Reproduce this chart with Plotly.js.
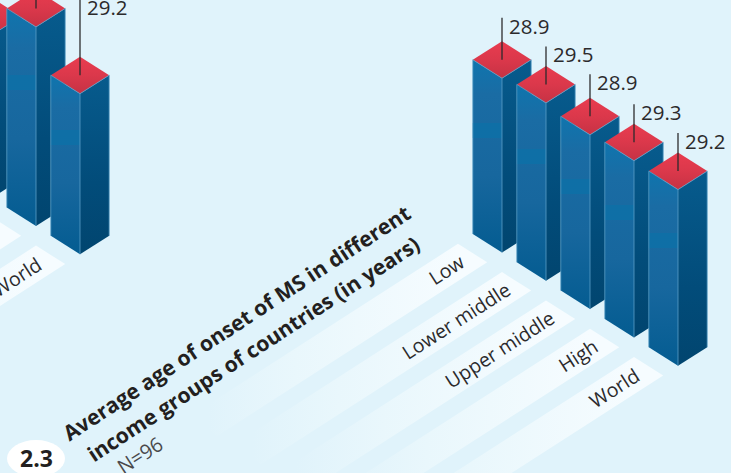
<!DOCTYPE html>
<html>
<head>
<meta charset="utf-8">
<script src="https://cdn.plot.ly/plotly-3.0.1.min.js"></script>
<style>html,body{margin:0;padding:0;background:#e0f3fb;overflow:hidden}</style>
</head>
<body>
<div id="chart" style="width:731px;height:473px"></div>
<script>
// ---- data ----
const categories = ['Low', 'Lower middle', 'Upper middle', 'High', 'World'];
const onsetAge = [28.9, 29.5, 28.9, 29.3, 29.2];
const valueLabels = ['28.9', '29.5', '28.9', '29.3', '29.2'];
const leaderLengths = [42, 38, 42, 38, 38];
const labelInsets = [31, 72, 73, 32, 40];
const stripTops = [123, 149, 179, 205, 233];

const prevCategories = ['Upper middle', 'High', 'World'];
const prevValues = [29.6, 36.2, 29.2];
const prevValueLabels = ['', '', '29.2'];
const prevSlots = [2, 3, 4];
const prevStripTops = [null, 75, 130];

const titleLines = ['Average age of onset of MS in different', 'income groups of countries (in years)'];
const noteText = 'N=96';
const badgeText = '2.3';

// ---- style & projection ----
const BG = '#e0f3fb', HW = 29.2, HH = 18.5, STEP_X = 44, STEP_Y = 28.3;
const ANGLE = -32.7, DIR = [-0.841, 0.541];
const FONT = '"Open Sans", "Noto Sans", sans-serif', INK = '#2b2a2c';

const traces = [], annotations = [];

function poly(xs, ys, fillgradient, line) {
  traces.push({
    type: 'scatter', mode: line ? 'lines' : 'none', x: xs.concat(xs[0]), y: ys.concat(ys[0]),
    fill: 'toself', fillgradient, line: line || { width: 0 }, hoverinfo: 'skip', showlegend: false
  });
}

function group(x0, y0, pxPerYear, slots, values, labels, leaders, stripArr, cats, insets) {
  // background ribbons
  slots.forEach((s, k) => {
    const tx = x0 + s * STEP_X - 44, ty = y0 + s * STEP_Y - 8.7;
    const L = 270, ex = L, ey = L * 0.643;
    poly([tx, tx + HW, tx + HW - ex, tx - ex], [ty, ty + HH, ty + HH + ey, ty + ey], {
      type: 'horizontal', start: tx - ex + 20, stop: tx + HW - 30,
      colorscale: [[0, BG], [0.35, '#e9f7fc'], [1, '#f6fcff']]
    });
    const cx = tx + HW / 2 + insets[k] * DIR[0], cy = ty + HH / 2 + insets[k] * DIR[1];
    if (cx > 0) annotations.push({
      x: cx, y: cy, xref: 'x', yref: 'y', text: cats[k], showarrow: false, textangle: ANGLE,
      font: { family: FONT, size: 19.5, color: INK }, xanchor: 'center', yanchor: 'middle'
    });
  });
  // bars
  slots.forEach((s, k) => {
    const fx = x0 + s * STEP_X, by = y0 + s * STEP_Y, ty = by - values[k] * pxPerYear;
    poly([fx - HW, fx, fx, fx - HW], [ty - HH, ty, by, by - HH], {
      type: 'vertical', start: ty - HH, stop: by,
      colorscale: [[0, '#0f75ae'], [0.18, '#1a6ca4'], [0.6, '#17679e'], [1, '#045c91']]
    });
    if (stripArr[k] !== null) {
      traces.push({
        type: 'scatter', mode: 'none', hoverinfo: 'skip', showlegend: false, fill: 'toself',
        fillcolor: 'rgba(12,113,168,0.8)',
        x: [fx - HW, fx, fx, fx - HW, fx - HW],
        y: [stripArr[k], stripArr[k], stripArr[k] + 15, stripArr[k] + 15, stripArr[k]]
      });
    }
    poly([fx, fx + HW, fx + HW, fx], [ty, ty - HH, by - HH, by], {
      type: 'vertical', start: ty - HH, stop: by,
      colorscale: [[0, '#075b8d'], [0.6, '#024c7a'], [1, '#01456f']]
    });
    poly([fx - HW, fx, fx + HW, fx], [ty - HH, ty - 2 * HH, ty - HH, ty], {
      type: 'vertical', start: ty - 2 * HH, stop: ty,
      colorscale: [[0, '#e93c4f'], [0.5, '#db384b'], [1, '#c63244']]
    });
    // light edges
    traces.push({
      type: 'scatter', mode: 'lines', hoverinfo: 'skip', showlegend: false,
      line: { color: '#5c9fc8', width: 0.8 },
      x: [fx - HW, fx - HW, fx, fx, null, fx, fx + HW, fx + HW],
      y: [by - HH, ty - HH, ty, by, null, ty, ty - HH, by - HH]
    });
    // leader
    const cy = ty - HH, top = cy - (leaders ? leaders[k] : 80);
    traces.push({
      type: 'scatter', mode: 'lines', hoverinfo: 'skip', showlegend: false,
      line: { color: 'rgba(43,42,44,0.92)', width: 1.4 }, x: [fx, fx], y: [top, cy]
    });
    if (labels[k]) annotations.push({
      x: fx + 5, y: leaders ? top + 8 : 7, xref: 'x', yref: 'y', text: labels[k], showarrow: false,
      xanchor: 'left', yanchor: 'middle', font: { family: FONT, size: 20.5, color: INK }
    });
  });
}

group(80 - 4 * STEP_X, 254.3 - 4 * STEP_Y, 5.5, prevSlots, prevValues, prevValueLabels, null, prevStripTops, prevCategories,
  [73, 32, 40]);
group(502, 252.5, 6.03, [0, 1, 2, 3, 4], onsetAge, valueLabels, leaderLengths, stripTops, categories, labelInsets);

[[236, 322], [253, 348]].forEach((c, i) => annotations.push({
  x: c[0], y: c[1], xref: 'x', yref: 'y', text: '<b>' + titleLines[i] + '</b>', showarrow: false,
  textangle: -33.2, font: { family: FONT, size: 21.2, color: '#231f20' }, xanchor: 'center', yanchor: 'middle'
}));
annotations.push({
  x: 139, y: 455, xref: 'x', yref: 'y', text: noteText, showarrow: false, textangle: ANGLE,
  font: { family: FONT, size: 20, color: '#4a494b' }, xanchor: 'center', yanchor: 'middle'
});
annotations.push({
  x: 36, y: 458, xref: 'x', yref: 'y', text: '<b>' + badgeText + '</b>', showarrow: false,
  font: { family: FONT, size: 23, color: '#231f20' }, xanchor: 'center', yanchor: 'middle'
});

const layout = {
  width: 731, height: 473, margin: { l: 0, r: 0, t: 0, b: 0 },
  paper_bgcolor: BG, plot_bgcolor: BG, showlegend: false,
  xaxis: { range: [0, 731], visible: false, fixedrange: true },
  yaxis: { range: [473, 0], visible: false, fixedrange: true },
  shapes: [{ type: 'circle', xref: 'x', yref: 'y', x0: 7, x1: 65, y0: 440, y1: 477, fillcolor: '#ffffff', line: { width: 0 }, layer: 'above' }],
  annotations
};
Plotly.newPlot('chart', traces, layout, { displayModeBar: false, staticPlot: true });
</script>
</body>
</html>
